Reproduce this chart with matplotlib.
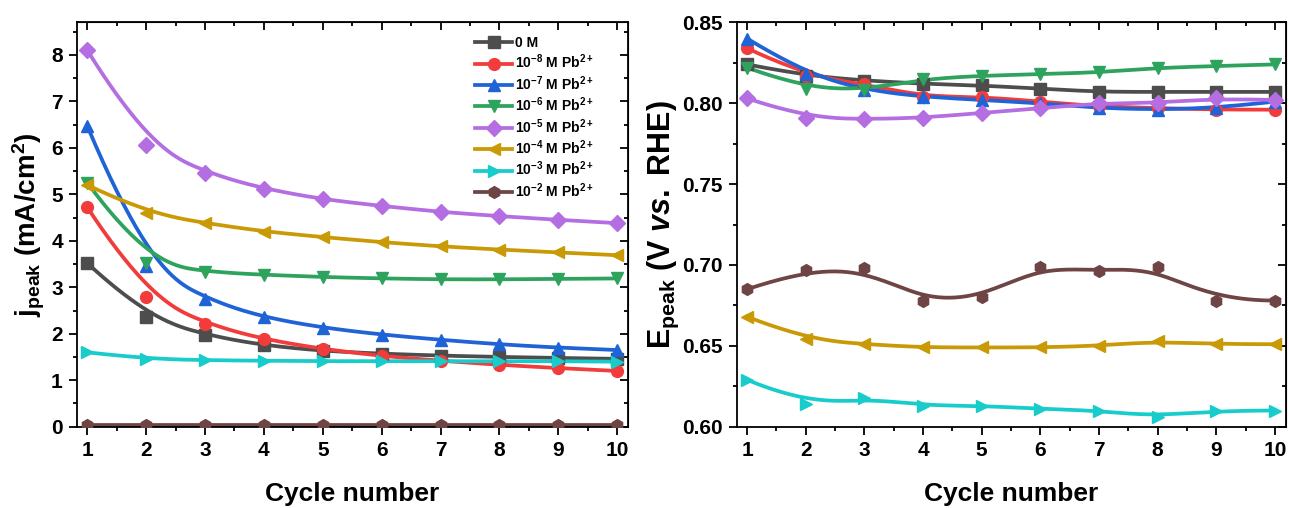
import numpy as np
import matplotlib.pyplot as plt
from matplotlib.ticker import MultipleLocator

plt.rcParams['font.family'] = ['Liberation Sans', 'DejaVu Sans']
plt.rcParams['font.weight'] = 'bold'
plt.rcParams['mathtext.fontset'] = 'custom'
plt.rcParams['mathtext.rm'] = 'Liberation Sans:bold'
plt.rcParams['mathtext.bf'] = 'Liberation Sans:bold'
plt.rcParams['mathtext.it'] = 'Liberation Sans:italic:bold'
plt.rcParams['mathtext.default'] = 'rm'

cycles = [1, 2, 3, 4, 5, 6, 7, 8, 9, 10]

labels = ['0 M',
          r'10$^{-8}$ M Pb$^{2+}$',
          r'10$^{-7}$ M Pb$^{2+}$',
          r'10$^{-6}$ M Pb$^{2+}$',
          r'10$^{-5}$ M Pb$^{2+}$',
          r'10$^{-4}$ M Pb$^{2+}$',
          r'10$^{-3}$ M Pb$^{2+}$',
          r'10$^{-2}$ M Pb$^{2+}$']
colors = ['#4d4d4d', '#f23c3c', '#1f63d6', '#2ea35e', '#b46ee2', '#c99a06', '#18cccc', '#6e4444']
markers = ['s', 'o', '^', 'v', 'D', '<', '>', 'h']

# peak current density (mA/cm2)
j_0M = [3.52, 2.35, 1.97, 1.75, 1.63, 1.57, 1.53, 1.50, 1.48, 1.46]
j_1e8 = [4.72, 2.80, 2.21, 1.88, 1.67, 1.52, 1.42, 1.33, 1.26, 1.20]
j_1e7 = [6.47, 3.46, 2.74, 2.35, 2.13, 1.98, 1.87, 1.77, 1.70, 1.65]
j_1e6 = [5.25, 3.53, 3.33, 3.27, 3.22, 3.19, 3.17, 3.17, 3.18, 3.19]
j_1e5 = [8.10, 6.06, 5.46, 5.12, 4.89, 4.75, 4.62, 4.53, 4.45, 4.38]
j_1e4 = [5.20, 4.60, 4.38, 4.20, 4.08, 3.97, 3.88, 3.81, 3.75, 3.69]
j_1e3 = [1.60, 1.46, 1.43, 1.42, 1.41, 1.41, 1.41, 1.41, 1.41, 1.40]
j_1e2 = [0.04, 0.04, 0.04, 0.04, 0.04, 0.04, 0.04, 0.04, 0.04, 0.04]

# peak potential (V vs. RHE)
E_0M = [0.824, 0.817, 0.814, 0.812, 0.811, 0.809, 0.807, 0.807, 0.807, 0.807]
E_1e8 = [0.834, 0.817, 0.812, 0.804, 0.804, 0.801, 0.798, 0.797, 0.796, 0.796]
E_1e7 = [0.840, 0.818, 0.808, 0.804, 0.802, 0.800, 0.797, 0.796, 0.797, 0.801]
E_1e6 = [0.822, 0.809, 0.808, 0.815, 0.817, 0.818, 0.819, 0.822, 0.823, 0.824]
E_1e5 = [0.803, 0.791, 0.790, 0.791, 0.794, 0.797, 0.800, 0.800, 0.803, 0.802]
E_1e4 = [0.668, 0.654, 0.651, 0.649, 0.649, 0.649, 0.650, 0.653, 0.651, 0.651]
E_1e3 = [0.629, 0.614, 0.618, 0.613, 0.613, 0.611, 0.610, 0.606, 0.610, 0.610]
E_1e2 = [0.685, 0.697, 0.698, 0.678, 0.680, 0.699, 0.696, 0.699, 0.678, 0.678]

j_all = [j_0M, j_1e8, j_1e7, j_1e6, j_1e5, j_1e4, j_1e3, j_1e2]
E_all = [E_0M, E_1e8, E_1e7, E_1e6, E_1e5, E_1e4, E_1e3, E_1e2]


def bspline(x, y, n=300, k=3):
    # clamped cubic B-spline with the data points as control points
    P = np.column_stack([x, y]).astype(float)
    m = len(P)
    knots = np.concatenate([np.zeros(k), np.arange(m - k + 1), np.full(k, m - k)]).astype(float)
    t = np.linspace(0, m - k, n)
    t[-1] -= 1e-9

    def basis(i, d, t):
        if d == 0:
            return ((knots[i] <= t) & (t < knots[i + 1])).astype(float)
        out = np.zeros_like(t)
        den1 = knots[i + d] - knots[i]
        den2 = knots[i + d + 1] - knots[i + 1]
        if den1 > 0:
            out += (t - knots[i]) / den1 * basis(i, d - 1, t)
        if den2 > 0:
            out += (knots[i + d + 1] - t) / den2 * basis(i + 1, d - 1, t)
        return out

    B = np.array([basis(i, k, t) for i in range(m)])
    curve = B.T @ P
    return curve[:, 0], curve[:, 1]


fig = plt.figure(figsize=(12.89, 5.08), dpi=100)
ax1 = fig.add_axes([0.0595, 0.160, 0.428, 0.796])
ax2 = fig.add_axes([0.5714, 0.160, 0.4263, 0.796])

for ax, data in ((ax1, j_all), (ax2, E_all)):
    for vals, c, mk, lab in zip(data, colors, markers, labels):
        xs, ys = bspline(cycles, vals)
        ax.plot(xs, ys, color=c, lw=2.7, zorder=2)
        ax.plot(cycles, vals, ls='none', marker=mk, ms=8.5, color=c, zorder=3)
        ax.plot([], [], color=c, lw=2.7, marker=mk, ms=8.5, label=lab)

ax1.set_xlim(0.82, 10.19)
ax1.set_ylim(0, 8.7)
ax1.yaxis.set_major_locator(MultipleLocator(1))
ax1.yaxis.set_minor_locator(MultipleLocator(0.5))
ax1.set_ylabel(r'j$_{peak}$ (mA/cm$^{2}$)', fontsize=20, fontweight='bold', labelpad=3)

ax2.set_xlim(0.82, 10.19)
ax2.set_ylim(0.60, 0.85)
ax2.yaxis.set_major_locator(MultipleLocator(0.05))
ax2.yaxis.set_minor_locator(MultipleLocator(0.025))
ax2.yaxis.set_major_formatter(plt.FormatStrFormatter('%.2f'))
ax2.set_ylabel(r'E$_{peak}$ (V $\it{vs.}$ RHE)', fontsize=22, fontweight='bold', labelpad=1)

for ax in (ax1, ax2):
    ax.xaxis.set_major_locator(MultipleLocator(1))
    ax.xaxis.set_minor_locator(MultipleLocator(0.5))
    ax.set_xlabel('Cycle number', fontsize=19, fontweight='bold', labelpad=16)
    ax.tick_params(which='major', direction='out', length=6, width=1.3, labelsize=15, pad=4)
    ax.tick_params(which='minor', direction='out', length=3, width=1.3)
    for sp in ax.spines.values():
        sp.set_linewidth(1.3)
    for lb in ax.get_xticklabels() + ax.get_yticklabels():
        lb.set_fontweight('bold')
    # inward ticks on the top and right frame
    top = ax.secondary_xaxis('top')
    top.xaxis.set_major_locator(MultipleLocator(1))
    top.xaxis.set_minor_locator(MultipleLocator(0.5))
    top.tick_params(which='major', direction='in', length=6, width=1.3, labeltop=False)
    top.tick_params(which='minor', direction='in', length=3, width=1.3)
    right = ax.secondary_yaxis('right')
    right.yaxis.set_major_locator(ax.yaxis.get_major_locator())
    right.yaxis.set_minor_locator(ax.yaxis.get_minor_locator())
    right.tick_params(which='major', direction='in', length=6, width=1.3, labelright=False)
    right.tick_params(which='minor', direction='in', length=3, width=1.3)

ax1.legend(loc='upper right', bbox_to_anchor=(0.955, 0.99), frameon=False,
           prop={'size': 10, 'weight': 'bold'}, numpoints=1, handlelength=2.7,
           handletextpad=0.2, labelspacing=0.2, borderaxespad=0.3)

fig.savefig('out.png', dpi=100)
